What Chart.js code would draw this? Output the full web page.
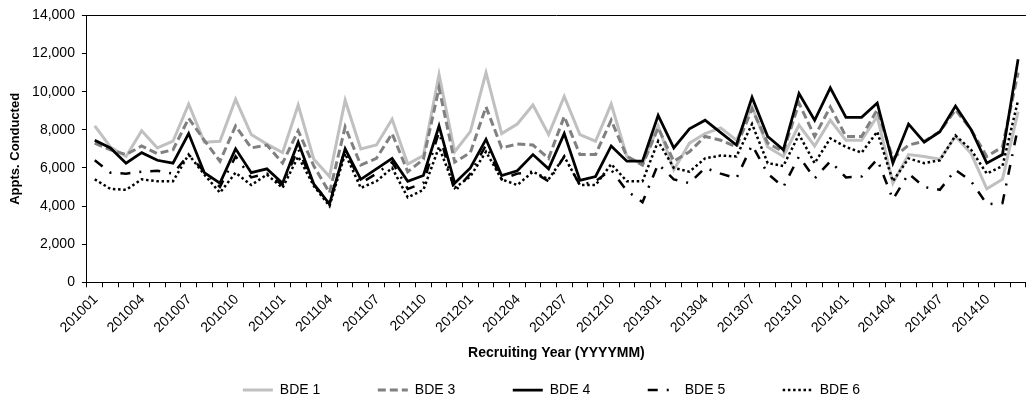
<!DOCTYPE html>
<html>
<head>
<meta charset="utf-8">
<script src="https://cdn.jsdelivr.net/npm/chart.js@4.4.1/dist/chart.umd.min.js"></script>
<style>
  html, body { margin: 0; padding: 0; background: #fff; overflow: hidden; }
  #wrap { position: relative; width: 1034px; height: 408px; }
</style>
</head>
<body>
<div id="wrap"><canvas id="grafico"></canvas></div>
<script>
// meses 201001 .. 201412
const categorias = [
  '201001','201002','201003','201004','201005','201006','201007','201008','201009','201010','201011','201012',
  '201101','201102','201103','201104','201105','201106','201107','201108','201109','201110','201111','201112',
  '201201','201202','201203','201204','201205','201206','201207','201208','201209','201210','201211','201212',
  '201301','201302','201303','201304','201305','201306','201307','201308','201309','201310','201311','201312',
  '201401','201402','201403','201404','201405','201406','201407','201408','201409','201410','201411','201412'
];

const bde1 = [8200, 7100, 6600, 7950, 7050, 7400, 9350, 7350, 7400, 9600, 7750, 7250,
              6800, 9300, 6450, 5550, 9550, 7000, 7200, 8550, 6200, 6650, 10900, 6850,
              7900, 11000, 7800, 8300, 9300, 7750, 9750, 7750, 7400, 9350, 6600, 6200,
              8200, 5900, 7300, 7800, 8100, 7450, 9200, 7100, 6600, 8250, 7150, 8500,
              7450, 7450, 8700, 5200, 6700, 6600, 6450, 7650, 6750, 4900, 5400, 8950];
const bde3 = [7300, 6950, 6700, 7150, 6750, 6950, 8600, 7450, 6350, 8200, 7050, 7200,
              6250, 7950, 6100, 4700, 8150, 6150, 6500, 7800, 5800, 6450, 10200, 6300,
              6800, 9200, 7050, 7250, 7200, 6500, 8700, 6700, 6700, 8500, 6600, 6150,
              8100, 6350, 6850, 7650, 7450, 7100, 9100, 7300, 6850, 9400, 7650, 9200,
              7650, 7650, 9050, 6500, 7200, 7400, 7900, 9050, 8000, 6600, 7100, 11000];
const bde4 = [7450, 7050, 6250, 6800, 6400, 6250, 7800, 5750, 5200, 7000, 5750, 5950,
              5200, 7350, 5150, 4100, 7000, 5400, 5950, 6500, 5300, 5600, 8200, 5200,
              6000, 7500, 5600, 5850, 6700, 5950, 7800, 5350, 5550, 7150, 6350, 6350,
              8750, 7050, 8050, 8500, 7850, 7200, 9700, 7650, 6950, 9900, 8500, 10200,
              8650, 8650, 9400, 6250, 8300, 7350, 7900, 9250, 8000, 6250, 6700, 11700];
const bde5 = [6400, 5750, 5700, 5800, 5850, 5700, 6700, 5800, 5000, 6600, 5500, 5700,
              5100, 7000, 5100, 4200, 7000, 5200, 5700, 6300, 4900, 5200, 7900, 4750,
              5700, 7200, 5400, 5700, 5800, 5300, 6600, 5100, 5300, 5900, 4800, 4200,
              6200, 5400, 5200, 6000, 5700, 5450, 7200, 5700, 5000, 6600, 5450, 6350,
              5500, 5550, 6450, 4350, 5700, 5000, 4850, 5900, 5300, 4100, 4150, 8150];
const bde6 = [5400, 4900, 4850, 5400, 5300, 5300, 6700, 5650, 4700, 5750, 5100, 5650,
              4950, 6600, 5050, 4000, 6750, 4950, 5300, 6000, 4450, 4850, 7100, 4950,
              5550, 6850, 5400, 5100, 5800, 5400, 6600, 5100, 5100, 6200, 5300, 5300,
              7400, 6000, 5800, 6500, 6650, 6600, 8300, 6250, 6100, 7750, 6250, 7550,
              7100, 6800, 7900, 5300, 6500, 6250, 6400, 7700, 6950, 5700, 6100, 9550];

const yMax = 14000;
const yPasso = 2000;

const FONTE = "'Liberation Sans', Arial, sans-serif";
const LEGENDA_DX = 32;   // Excel centraliza a legenda no gráfico inteiro
const LEGENDA_Y = 390;

// empurra a legenda para a posição do original
const ajusteLegenda = {
  id: 'ajusteLegenda',
  afterLayout(chart) {
    const lg = chart.legend;
    lg.left += LEGENDA_DX;
    lg.right += LEGENDA_DX;
    lg.top = LEGENDA_Y - 7 - lg.options.labels.padding;
    lg.bottom = chart.height;
  }
};

function serie(label, data, cor, largura, traco, ordem) {
  return {
    label: label,
    data: data,
    borderColor: cor,
    backgroundColor: cor,
    borderWidth: largura,
    borderDash: traco,
    borderCapStyle: 'butt',
    borderJoinStyle: 'miter',
    pointRadius: 0,
    tension: 0,
    fill: false,
    order: ordem
  };
}

// amostras da legenda com o mesmo traço das linhas
function gerarLegenda(chart) {
  const itens = Chart.defaults.plugins.legend.labels.generateLabels(chart);
  itens.forEach(it => {
    const ds = chart.data.datasets[it.datasetIndex];
    it.lineDash = ds.borderDash;
    it.lineWidth = ds.borderWidth;
    it.strokeStyle = ds.borderColor;
  });
  return itens;
}

const ctx = document.getElementById('grafico').getContext('2d');
new Chart(ctx, {
  type: 'line',
  data: {
    labels: categorias,
    datasets: [
      serie('BDE 1', bde1, '#c0c0c0', 3, [], 5),
      serie('BDE 3', bde3, '#808080', 3, [8, 4], 4),
      serie('BDE 4', bde4, '#000000', 2.75, [], 3),
      serie('BDE 5', bde5, '#000000', 2.5, [10, 9, 2, 9], 2),
      serie('BDE 6', bde6, '#000000', 2.5, [2.5, 2.7], 1)
    ]
  },
  options: {
    responsive: true,
    maintainAspectRatio: false,
    animation: false,
    layout: { padding: { left: 8, top: 8, right: 3, bottom: 0 } },
    plugins: {
      tooltip: { enabled: false },
      legend: {
        position: 'bottom',
        maxHeight: 46,
        labels: {
          usePointStyle: true,
          pointStyle: 'line',
          pointStyleWidth: 30,
          padding: 57.5,
          color: '#000',
          font: { family: FONTE, size: 14 },
          generateLabels: gerarLegenda,
          sort: (a, b) => a.datasetIndex - b.datasetIndex
        }
      }
    },
    scales: {
      x: {
        offset: true,
        grid: {
          offset: true,
          drawOnChartArea: false,
          drawTicks: true,
          tickLength: 5,
          color: '#000',
          tickColor: '#000'
        },
        border: { display: true, color: '#000', width: 1 },
        ticks: {
          autoSkip: false,
          maxRotation: 45,
          minRotation: 45,
          padding: 4,
          labelOffset: 1,
          color: '#000',
          font: { family: FONTE, size: 14 },
          callback: function (v, i) {
            return i % 3 === 0 ? this.getLabelForValue(v) : '';
          }
        },
        title: {
          display: true,
          text: 'Recruiting Year (YYYYMM)',
          color: '#000',
          font: { family: FONTE, size: 14, weight: 'bold' },
          padding: { top: 5, bottom: 0 }
        }
      },
      y: {
        min: 0,
        max: yMax,
        grid: {
          drawOnChartArea: true,
          drawTicks: true,
          tickLength: 5,
          color: (c) => (c.tick && c.tick.value === yMax ? '#000' : 'rgba(0,0,0,0)'),
          tickColor: '#000'
        },
        border: { display: true, color: '#000', width: 1 },
        ticks: {
          stepSize: yPasso,
          padding: 7,
          color: '#000',
          font: { family: FONTE, size: 14 }
        },
        title: {
          display: true,
          text: 'Appts. Conducted',
          color: '#000',
          font: { family: FONTE, size: 13, weight: 'bold' },
          padding: { top: 0, bottom: 1.5 }
        }
      }
    }
  },
  plugins: [ajusteLegenda]
});
</script>
</body>
</html>
